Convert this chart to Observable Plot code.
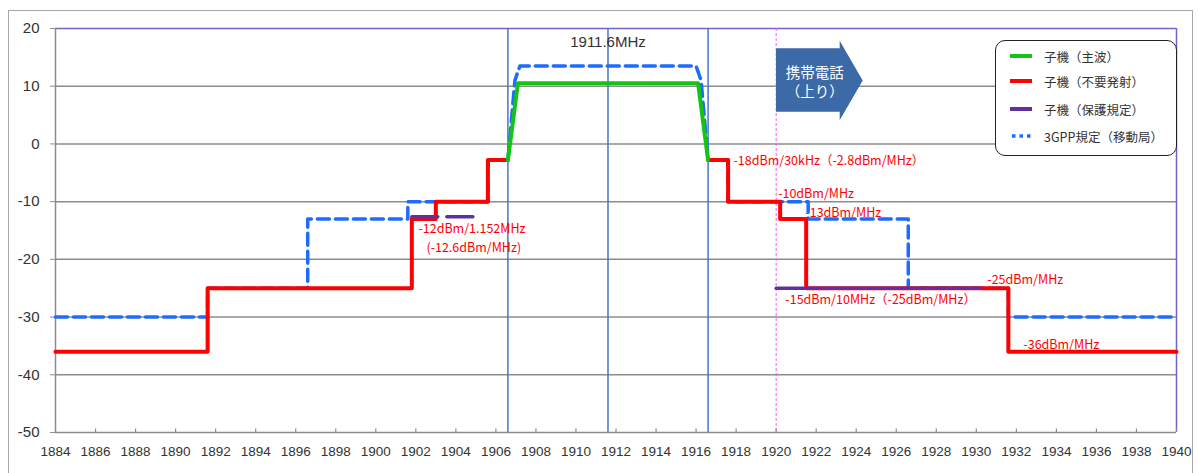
<!DOCTYPE html>
<html><head><meta charset="utf-8">
<script src="https://cdn.jsdelivr.net/npm/d3@7"></script>
<script src="https://cdn.jsdelivr.net/npm/@observablehq/plot@0.6"></script>
<style>
body{margin:0;background:#fff;}
#wrap{position:relative;width:1198px;height:473px;overflow:hidden;background:#fff;}
#frame{position:absolute;left:8px;top:10px;width:1185px;height:480px;border:1.5px solid #a8a8a8;box-sizing:border-box;}
#chart{position:absolute;left:0;top:0;}
#legend{position:absolute;left:995px;top:40px;width:182px;height:116px;border:1.5px solid #222;border-radius:10px;box-sizing:border-box;background:#fff;font-family:"Noto Sans CJK JP",sans-serif;font-size:12.5px;color:#333;}
.row{position:absolute;left:14px;height:20px;display:flex;align-items:center;}
.row svg{width:22px;height:10px;margin-right:12px;}
#arrow{position:absolute;background:#3b6aa6;font-family:"Noto Sans CJK JP",sans-serif;color:#fff;font-size:14.5px;line-height:19px;display:flex;flex-direction:column;justify-content:center;box-sizing:border-box;}
</style></head><body>
<div id="wrap"><div id="frame"></div><div id="chart"></div></div>
<script>
// ---- axes ----
const xTicks = [1884,1886,1888,1890,1892,1894,1896,1898,1900,1902,1904,1906,1908,1910,1912,1914,1916,1918,1920,1922,1924,1926,1928,1930,1932,1934,1936,1938,1940];
const yTicks = [-50,-40,-30,-20,-10,0,10,20];
const yGrid = [-40,-30,-20,-10,0,10];
const channelLines = [1906.6, 1911.6, 1916.6];
const bandEdge = [1920];

// ---- series: 子機（不要発射） ----
const redLeftX  = [1884, 1891.6, 1901.8, 1903.0, 1905.6, 1906.6];
const redLeftY  = [-36, -25, -13, -10, -2.8, -2.8];
const redRightX = [1916.6, 1917.6, 1920.2, 1921.5, 1931.6, 1940];
const redRightY = [-2.8, -10, -13, -25, -36, -36];
// ---- 子機（主波） ----
const greenX = [1906.6, 1907.1, 1916.1, 1916.6];
const greenY = [-2.8, 10.5, 10.5, -2.8];
// ---- 子機（保護規定） ----
const purpleLeftX  = [1901.8, 1904.9];
const purpleLeftY  = [-12.6, -12.6];
const purpleRightX = [1920.0, 1930.2];
const purpleRightY = [-25, -25];
// ---- 3GPP規定（移動局） ----
const blueX = [1884,1891.6,1891.6,1896.6,1896.6,1901.6,1901.6,1905.6,1905.6,1906.6,1906.95,1907.2,1916.0,1916.25,1916.6,1917.6,1917.6,1921.6,1921.6,1926.6,1926.6,1931.6,1931.6,1940];
const blueY = [-30,-30,-25,-25,-13,-13,-10,-10,-2.8,-2.8,11,13.5,13.5,11,-2.8,-2.8,-10,-10,-13,-13,-25,-25,-30,-30];

// ---- annotations ----
const noteText = ["-12dBm/1.152MHz","(-12.6dBm/MHz)","-18dBm/30kHz（-2.8dBm/MHz）","-10dBm/MHz","-13dBm/MHz","-15dBm/10MHz（-25dBm/MHz）","-25dBm/MHz","-36dBm/MHz"];
const noteX = [1902.13, 1902.53, 1917.87, 1920.1, 1921.46, 1920.46, 1930.55, 1932.35];
const noteY = [-14.8, -17.95, -3.0, -8.6, -11.9, -27.1, -23.5, -34.9];
const centerLabel = ["1911.6MHz"];
const centerX = [1911.6];
const centerY = [17.6];

const legendLabels = ["子機（主波）","子機（不要発射）","子機（保護規定）","3GPP規定（移動局）"];
const arrowLines = ["携帯電話","（上り）"];

const pts = (xs, ys, seg) => xs.map((x, i) => ({x, y: ys[i], seg}));
const red = [...pts(redLeftX, redLeftY, "L"), ...pts(redRightX, redRightY, "R")];
const green = pts(greenX, greenY, "G");
const purple = [...pts(purpleLeftX, purpleLeftY, "L"), ...pts(purpleRightX, purpleRightY, "R")];
const blue = pts(blueX, blueY, "B");
const notes = noteText.map((t, i) => ({t, x: noteX[i], y: noteY[i]}));

const C = {red:"#ff0000", green:"#14c414", purple:"#6030a0", blue:"#1f6bff"};
const grid = "#8c8c8c";

const chart = Plot.plot({
  width: 1198, height: 473,
  marginLeft: 55, marginRight: 22, marginTop: 28, marginBottom: 41,
  x: {domain: [1884, 1940]},
  y: {domain: [-50, 20]},
  style: {fontFamily: "'Liberation Sans', Arial, sans-serif", fontSize: "13.5px", color: "#333", background: "transparent", overflow: "visible"},
  marks: [
    Plot.ruleY(yGrid, {stroke: grid, strokeWidth: 1.5}),
    Plot.ruleY([20], {stroke: "#7464c8", strokeWidth: 1.5}),
    Plot.ruleX([1940], {stroke: "#7464c8", strokeWidth: 1.5}),
    Plot.ruleX(channelLines, {stroke: "#4a74c4", strokeWidth: 1.5}),
    Plot.ruleX(bandEdge, {stroke: "#ff55ff", strokeWidth: 1, strokeDasharray: "3,2"}),
    Plot.ruleX([1884], {stroke: grid, strokeWidth: 1.5}),
    Plot.ruleY([-50], {stroke: grid, strokeWidth: 1.5}),
    Plot.ruleX(xTicks, {y1: -50, y2: -49.4, stroke: grid, strokeWidth: 1.2}),
    Plot.axisX({ticks: xTicks, tickSize: 0, tickPadding: 14, tickFormat: d => String(d), label: null, fill: "#333", fontSize: 13.5}),
    Plot.axisY({ticks: yTicks, tickSize: 5, tickPadding: 11, tickFormat: d => String(d), label: null, stroke: grid, fontSize: 15, fill: "#333"}),
    Plot.text(notes, {x: "x", y: "y", text: "t", textAnchor: "start", fill: C.red, fontSize: 12.5, fontFamily: "'Noto Sans CJK JP', sans-serif"}),
    Plot.text(centerLabel, {x: (d, i) => centerX[i], y: (d, i) => centerY[i], text: d => d, fill: "#333", fontSize: 15}),
    Plot.line(blue, {x: "x", y: "y", stroke: C.blue, strokeWidth: 3.5, strokeDasharray: "12,6", strokeLinejoin: "round"}),
    Plot.line(red, {x: "x", y: "y", z: "seg", curve: "step-after", stroke: C.red, strokeWidth: 4}),
    Plot.line(green, {x: "x", y: "y", stroke: C.green, strokeWidth: 4}),
    Plot.line(purple, {x: "x", y: "y", z: "seg", stroke: C.purple, strokeWidth: 3.5})
  ]
});
document.getElementById("chart").appendChild(chart);

// dashed look of left 保護規定 segment
{
  const groups = chart.querySelectorAll("g[aria-label=line]");
  const pg = groups[groups.length - 1];
  const ps = pg.querySelectorAll("path");
  if (ps.length) ps[0].setAttribute("stroke-dasharray", "26,9");
}

// arrow shape (携帯電話 上り) placed through scales
const sx = chart.scale("x"), sy = chart.scale("y");
const ax0 = sx.apply(1920.0), ax1 = sx.apply(1924.35), axh = sx.apply(1923.2);
const ayT = sy.apply(17.8), ayB = sy.apply(4.0), abT = sy.apply(16.5), abB = sy.apply(5.5);
const arrow = document.createElement("div");
arrow.id = "arrow";
const w = ax1 - ax0, h = ayB - ayT;
arrow.style.left = ax0 + "px"; arrow.style.top = ayT + "px";
arrow.style.width = w + "px"; arrow.style.height = h + "px";
const px = v => (v / w * 100).toFixed(2) + "%", py = v => (v / h * 100).toFixed(2) + "%";
arrow.style.clipPath = `polygon(0% ${py(abT - ayT)}, ${px(axh - ax0)} ${py(abT - ayT)}, ${px(axh - ax0)} 0%, 100% 50%, ${px(axh - ax0)} 100%, ${px(axh - ax0)} ${py(abB - ayT)}, 0% ${py(abB - ayT)})`;
arrow.style.paddingRight = (ax1 - axh - 14) + "px";
arrow.style.alignItems = "center";
arrowLines.forEach(t => { const s = document.createElement("span"); s.textContent = t; arrow.appendChild(s); });
document.getElementById("wrap").appendChild(arrow);

// legend
const legend = document.createElement("div");
legend.id = "legend";
const swatch = [
  `<line x1="0" y1="5" x2="22" y2="5" stroke="${C.green}" stroke-width="4"/>`,
  `<line x1="0" y1="5" x2="22" y2="5" stroke="${C.red}" stroke-width="4"/>`,
  `<line x1="0" y1="5" x2="22" y2="5" stroke="${C.purple}" stroke-width="4"/>`,
  `<line x1="2" y1="5" x2="22" y2="5" stroke="${C.blue}" stroke-width="3.5" stroke-dasharray="3.5,4"/>`
];
const rowTops = [5, 30, 58, 85];
legendLabels.forEach((t, i) => {
  const r = document.createElement("div");
  r.className = "row"; r.style.top = rowTops[i] + "px";
  r.innerHTML = `<svg viewBox="0 0 22 10">${swatch[i]}</svg><span>${t}</span>`;
  legend.appendChild(r);
});
document.getElementById("wrap").appendChild(legend);
</script>
</body></html>
